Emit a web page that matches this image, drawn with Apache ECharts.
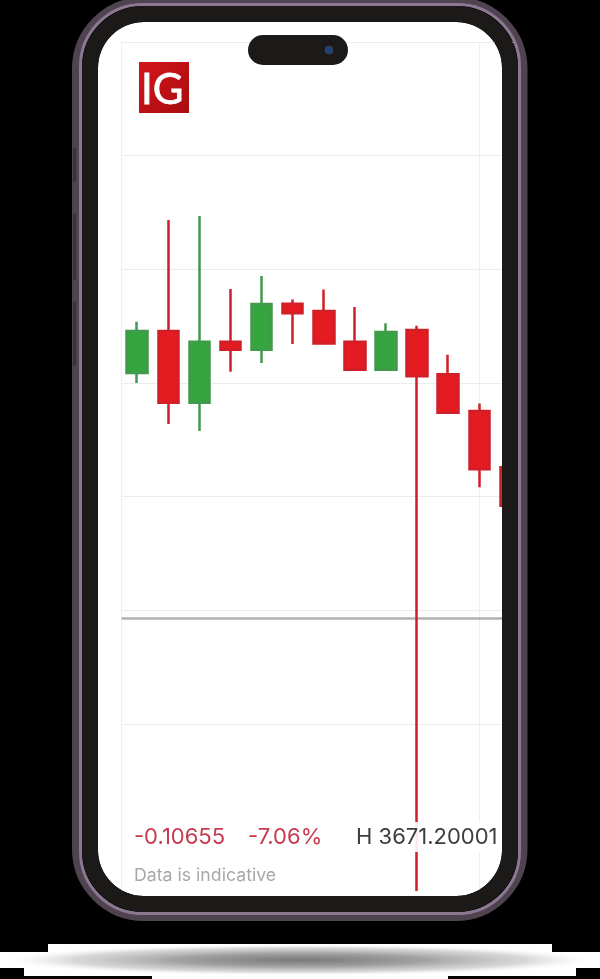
<!DOCTYPE html>
<html><head><meta charset="utf-8">
<style>html,body{margin:0;padding:0;background:#000}#c{width:600px;height:979px}</style>
<script src="https://cdn.jsdelivr.net/npm/echarts@6/dist/echarts.min.js"></script>
</head><body><div id="c"></div>
<script>
const categories = ['1','2','3','4','5','6','7','8','9','10','11','12','13'];
const opens  = [1.4088,1.4457,1.3827,1.4363,1.4293,1.4698,1.4633,1.4363,1.4117,1.4466,1.4077,1.3754,1.3259];
const closes = [1.4457,1.3827,1.4363,1.4293,1.4695,1.4613,1.4349,1.4117,1.4449,1.4059,1.3739,1.3241,1.2921];
const lows   = [1.4000,1.3639,1.3578,1.4099,1.4176,1.4343,1.4340,1.4117,1.4117,0.9532,1.3739,1.3083,1.2921];
const highs  = [1.4539,1.5434,1.5469,1.4827,1.4941,1.4736,1.4824,1.4668,1.4525,1.4504,1.4249,1.3821,1.3259];
const gridValues = [1.1,1.2,1.3,1.4,1.5,1.6,1.7];
const currentPrice = 1.1933;
const verticalGridCategory = '12';
const changeText = '-0.10655';
const percentText = '-7.06%';
const highText = 'H 3671.20001';
const noteText = 'Data is indicative';

const frame = [
  {type:'rect',z:98,shape:{x:518,y:40,width:10,height:4},style:{fill:'#000'}},
  {type:'rect',z:100,shape:{x:76,y:1,width:447.5,height:916,r:68},style:{fill:'none',stroke:'#4f4350',lineWidth:8}},
  {type:'rect',z:101,shape:{x:80.5,y:4.5,width:439,height:909,r:62},style:{fill:'none',stroke:'#8d7893',lineWidth:3}},
  {type:'rect',z:102,shape:{x:90,y:14,width:420,height:890,r:54},style:{fill:'none',stroke:'#1b1a18',lineWidth:16}},
  {type:'rect',z:100,shape:{x:73,y:148,width:3,height:34},style:{fill:'#3c303e'}},
  {type:'rect',z:100,shape:{x:73,y:214,width:3,height:66},style:{fill:'#3c303e'}},
  {type:'rect',z:100,shape:{x:73,y:302,width:3,height:64},style:{fill:'#3c303e'}},
  {type:'rect',z:103,shape:{x:248,y:35,width:100,height:30,r:15},style:{fill:'#1b1a18'}},
  {type:'circle',z:104,shape:{cx:329,cy:50,r:4},style:{fill:'#1c3f7e',stroke:'#3a3f48',lineWidth:1}}
];
const logo = [
  {type:'rect',z:50,shape:{x:139,y:62,width:50,height:51},style:{fill:new echarts.graphic.LinearGradient(0,0,1,1,[{offset:0,color:'#d3161c'},{offset:1,color:'#a90c10'}])}},
  {type:'text',z:51,x:141,y:69,style:{text:'IG',fill:'#fff',stroke:'#fff',lineWidth:0.8,font:'400 42px Lato',textVerticalAlign:'top'}}
];
const shadow = [
  {type:'rect',z:90,shape:{x:48,y:944,width:504,height:8},style:{fill:'#fff'}},
  {type:'rect',z:90,shape:{x:0,y:952,width:600,height:16},style:{fill:'#fff'}},
  {type:'rect',z:90,shape:{x:24,y:968,width:552,height:8},style:{fill:'#fff'}},
  {type:'rect',z:90,shape:{x:152,y:976,width:296,height:3},style:{fill:'#fff'}},
  {type:'circle',z:91,x:300,y:960,scaleX:19,scaleY:1,shape:{cx:0,cy:0,r:16},style:{fill:new echarts.graphic.RadialGradient(0.5,0.5,0.5,[{offset:0,color:'rgba(120,120,120,1)'},{offset:0.4,color:'rgba(150,150,150,0.9)'},{offset:0.75,color:'rgba(190,190,190,0.6)'},{offset:1,color:'rgba(255,255,255,0)'}])}}
];
const texts = [
  {type:'rect',z:40,shape:{x:123,y:822,width:379,height:30},style:{fill:'rgba(255,255,255,0.9)'}},
  {type:'text',z:50,x:134,y:837,style:{text:changeText,fill:'#c63a4c',font:'400 22px Inter',textVerticalAlign:'middle'}},
  {type:'text',z:50,x:248,y:837,style:{text:percentText,fill:'#c63a4c',font:'400 22px Inter',textVerticalAlign:'middle'}},
  {type:'text',z:50,x:356,y:837,style:{text:highText,fill:'#3d3d3d',font:'400 22px Inter',textVerticalAlign:'middle'}},
  {type:'text',z:50,x:134,y:876,style:{text:noteText,fill:'#a8a8a8',font:'400 17.7px Inter',textVerticalAlign:'middle'}}
];

const chart = echarts.init(document.getElementById('c'));
chart.setOption({
  animation:false,
  backgroundColor:'#000',
  grid:{left:121.65,right:74.05,top:42,bottom:84.35},
  graphic:{elements:[
    {type:'rect',z:-10,shape:{x:98,y:22,width:404,height:874,r:46},style:{fill:'#fff'}},
    ...logo,...texts,...frame,...shadow
  ]},
  xAxis:{type:'category',data:categories,axisLine:{show:false},axisTick:{show:false},axisLabel:{show:false},splitLine:{show:false}},
  yAxis:{type:'value',min:0.95,max:1.7,
    axisLine:{show:true,lineStyle:{color:'#eeeeee'}},
    axisTick:{show:false,customValues:gridValues},axisLabel:{show:false,customValues:gridValues},
    splitLine:{show:true,lineStyle:{color:'#ececec',width:1}}},
  series:[
    {type:'line',data:[],z:1,silent:true,symbol:'none',
     markLine:{silent:true,z:1,symbol:'none',label:{show:false},
       data:[{xAxis:verticalGridCategory,lineStyle:{color:'#eeeeee',width:1,type:'solid'}}]}},
    {type:'line',data:[],z:1,silent:true,symbol:'none',
     markLine:{silent:true,z:1,symbol:'none',precision:4,label:{show:false},
       data:[{yAxis:currentPrice,lineStyle:{color:'#b0b0b0',width:2.5,type:'solid'}}]}},
    {type:'candlestick',z:3,barWidth:21,
     data:categories.map((_,i)=>[opens[i],closes[i],lows[i],highs[i]]),
     itemStyle:{color:'#36a540',color0:'#e41b20',borderColor:'#41994b',borderColor0:'#cf2029',borderWidth:2.5}}
  ]
});
</script></body></html>
